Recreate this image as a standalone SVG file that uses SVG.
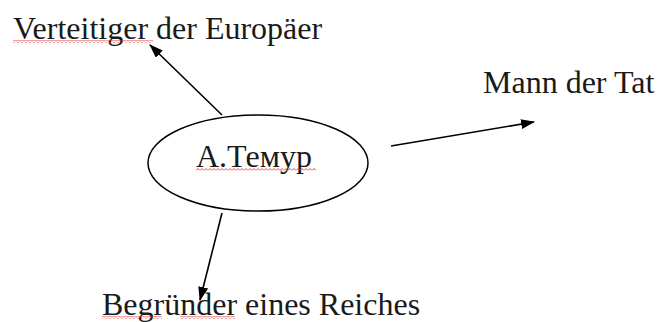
<svg xmlns="http://www.w3.org/2000/svg" width="660" height="322" viewBox="0 0 660 322">
<style>
text{font-family:"Liberation Serif","Times New Roman",serif;font-size:32px;fill:#1a1a1a}
.c{stroke:#000;stroke-width:1.6;fill:none}
.w{fill:url(#wave)}
</style>
<defs>
<marker id="ah" viewBox="0 0 14 10" refX="13" refY="5" markerWidth="14" markerHeight="10" markerUnits="userSpaceOnUse" orient="auto">
<path d="M0,0 L14,5 L0,10 Z" fill="#000"/>
</marker>
<pattern id="wave" patternUnits="userSpaceOnUse" width="4" height="3">
<path d="M0,2.5 L2,0.5 L4,2.5" stroke="#e03030" stroke-width="0.9" fill="none"/>
</pattern>
</defs>
<rect width="660" height="322" fill="#fff"/>
<g id="connectors">
<line class="c" x1="222" y1="115" x2="150" y2="45" marker-end="url(#ah)"/>
<line class="c" x1="391" y1="146" x2="534" y2="122" marker-end="url(#ah)"/>
<line class="c" x1="222" y1="213" x2="200" y2="300" marker-end="url(#ah)"/>
</g>
<g id="center">
<ellipse cx="258" cy="163" rx="110" ry="48" fill="none" stroke="#000" stroke-width="1.5"/>
<text x="196" y="167">A.Темур</text>
<rect class="w" x="196" y="168" width="120" height="3"/>
</g>
<g id="verteidiger">
<text x="13" y="39">Verteitiger der Europäer</text>
<rect class="w" x="13" y="40" width="140" height="3"/>
</g>
<g id="mann">
<text x="483" y="93">Mann der Tat</text>
</g>
<g id="begruender">
<text x="102" y="315">Begründer eines Reiches</text>
<rect class="w" x="102" y="316" width="60" height="3"/>
<rect class="w" x="180" y="316" width="55" height="3"/>
</g>
</svg>
